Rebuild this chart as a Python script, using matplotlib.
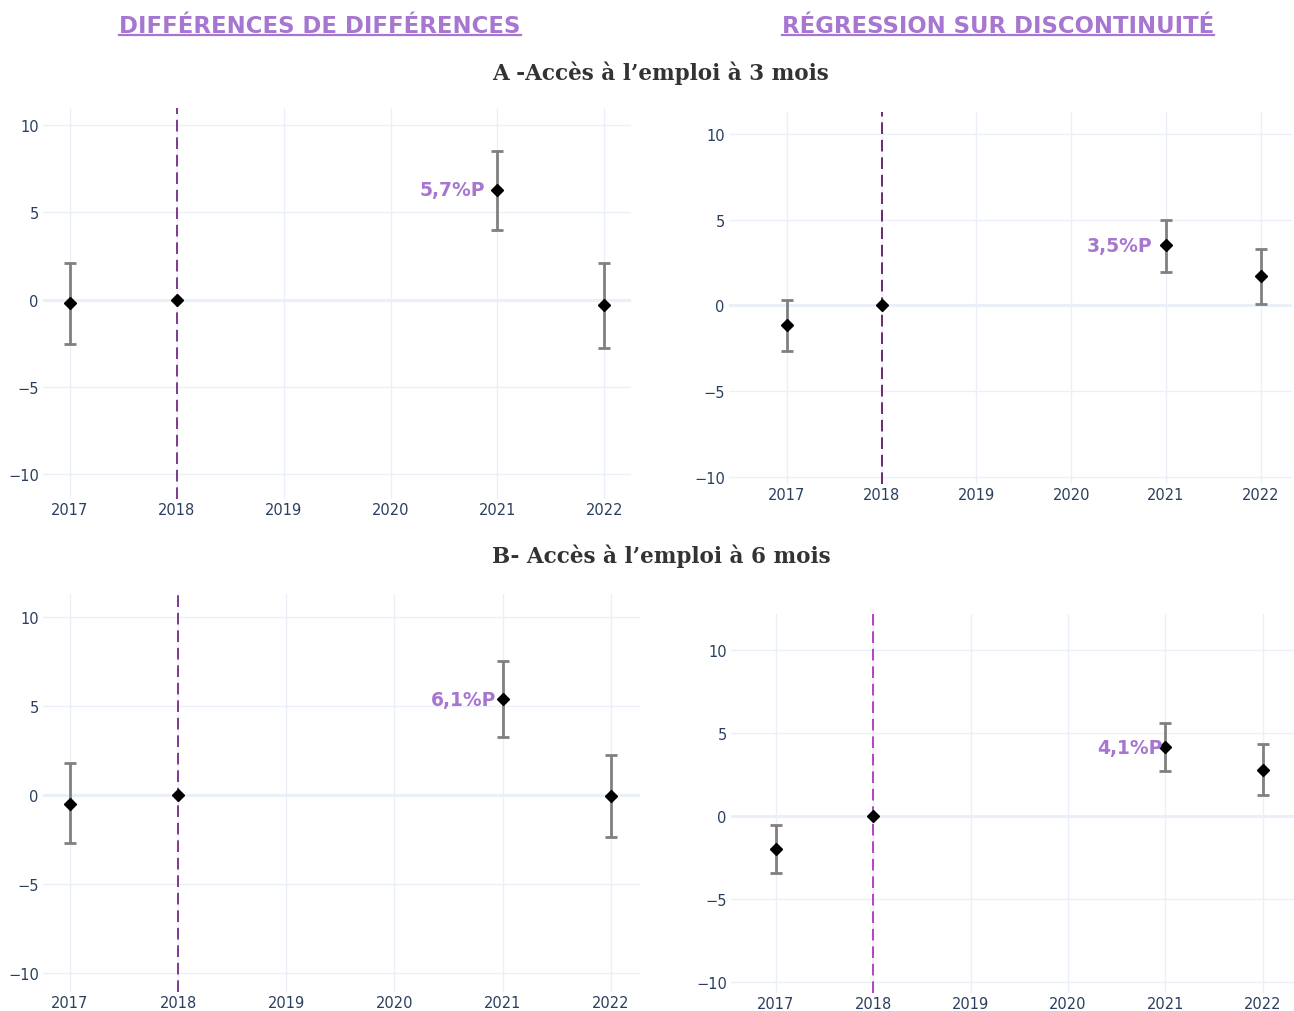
import numpy as np
import matplotlib
matplotlib.use('Agg')
import matplotlib.pyplot as plt
from matplotlib.lines import Line2D

plt.rcParams['font.family'] = 'DejaVu Sans'

# Données (points de pourcentage)
annees = [2017, 2018, 2021, 2022]
ticks_annees = [2017, 2018, 2019, 2020, 2021, 2022]

# A - accès à l'emploi à 3 mois
did_3m = [-0.2, 0.0, 6.3, -0.3]
did_3m_bas = [-2.55, 0.0, 4.0, -2.8]
did_3m_haut = [2.1, 0.0, 8.55, 2.1]

rdd_3m = [-1.15, 0.0, 3.5, 1.7]
rdd_3m_bas = [-2.64, 0.0, 1.97, 0.08]
rdd_3m_haut = [0.32, 0.0, 5.0, 3.29]

# B - accès à l'emploi à 6 mois
did_6m = [-0.5, 0.0, 5.4, -0.05]
did_6m_bas = [-2.7, 0.0, 3.28, -2.34]
did_6m_haut = [1.8, 0.0, 7.55, 2.26]

rdd_6m = [-1.97, 0.0, 4.16, 2.77]
rdd_6m_bas = [-3.41, 0.0, 2.71, 1.27]
rdd_6m_haut = [-0.54, 0.0, 5.63, 4.32]

etiquettes = ['5,7%P', '3,5%P', '6,1%P', '4,1%P']
annee_reforme = 2018

violet = '#a676d0'
gris_texte = '#2a3f5f'
grille = '#ebf0f8'

W, H = 1294, 1012
fig = plt.figure(figsize=(W / 100, H / 100), dpi=100)


def cadre(g, d, h, b):
    # position en pixels -> fraction de figure
    return [g / W, 1 - b / H, (d - g) / W, (b - h) / H]


def panneau(pos, est, bas, haut, etiquette, xlim, ylim, couleur_ligne, decalage):
    ax = fig.add_axes(cadre(*pos))
    est = np.array(est)
    bas = np.array(bas)
    haut = np.array(haut)
    x = np.array(annees)

    ax.set_xlim(*xlim)
    ax.set_ylim(*ylim)
    ax.set_xticks(ticks_annees)
    ax.set_yticks([-10, -5, 0, 5, 10])
    ax.grid(True, color=grille, linewidth=1, zorder=0)
    ax.axhline(0, color=grille, linewidth=2.2, zorder=0.5)
    for s in ax.spines.values():
        s.set_visible(False)
    ax.tick_params(length=0, labelsize=10.5, labelcolor=gris_texte)
    ax.tick_params(axis='y', pad=3)
    ax.tick_params(axis='x', pad=2)

    ax.axvline(annee_reforme, color=couleur_ligne, linewidth=1.4,
               dashes=(6, 3), zorder=2)

    m = haut != bas
    ax.errorbar(x[m], est[m], yerr=[est[m] - bas[m], haut[m] - est[m]],
                fmt='none', ecolor='gray', elinewidth=2, capsize=4, capthick=2,
                zorder=3)
    ax.plot(x, est, 'D', color='black', markersize=6, zorder=4)

    i = annees.index(2021)
    ax.annotate(etiquette, (x[i], est[i]), xytext=(-decalage, 0),
                textcoords='offset points', ha='right', va='center',
                color=violet, fontsize=13.5, fontweight='bold',
                zorder=5)
    return ax


panneau((43, 631, 109, 500), did_3m, did_3m_bas, did_3m_haut, etiquettes[0],
        (2016.747, 2022.25), (-11.45, 11.0), '#7e3b8a', 9)
panneau((729, 1292, 113, 485), rdd_3m, rdd_3m_bas, rdd_3m_haut, etiquettes[1],
        (2016.39, 2022.33), (-10.43, 11.29), '#6a2a70', 9.5)
panneau((43, 640, 595, 993), did_6m, did_6m_bas, did_6m_haut, etiquettes[2],
        (2016.75, 2022.27), (-11.05, 11.31), '#7e3b8a', 4.5)
panneau((731, 1294, 615, 994), rdd_6m, rdd_6m_bas, rdd_6m_haut, etiquettes[3],
        (2016.54, 2022.32), (-10.64, 12.17), '#b444c4', 2)

# En-têtes de colonnes soulignés
entetes = [('DIFFÉRENCES DE DIFFÉRENCES', 320), ('RÉGRESSION SUR DISCONTINUITÉ', 998)]
textes = []
for t, xc in entetes:
    textes.append(fig.text(xc / W, 1 - 33 / H, t, ha='center', va='baseline',
                           color=violet, fontsize=16.4, fontweight='bold'))

fig.text(661 / W, 1 - 80 / H, 'A -Accès à l’emploi à 3 mois', ha='center',
         va='baseline', color='#333333', fontsize=15.5, fontweight='bold',
         family='DejaVu Serif')
fig.text(661 / W, 1 - 563 / H, 'B- Accès à l’emploi à 6 mois', ha='center',
         va='baseline', color='#333333', fontsize=15.5, fontweight='bold',
         family='DejaVu Serif')

rend = fig.canvas.get_renderer()
for t in textes:
    bb = t.get_window_extent(rend)
    y = 1 - 36 / H
    fig.add_artist(Line2D([bb.x0 / W, bb.x1 / W], [y, y], color=violet,
                          linewidth=1.6, transform=fig.transFigure))

fig.savefig('out.png', dpi=100)
